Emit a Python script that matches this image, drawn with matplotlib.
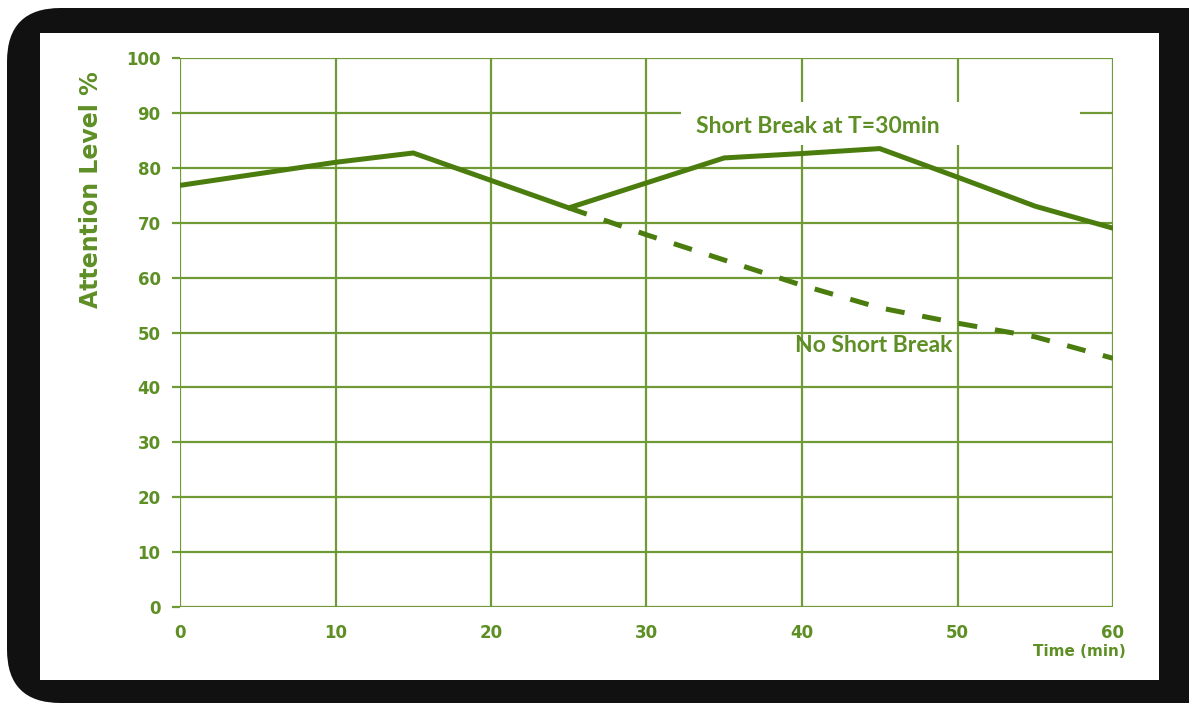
import matplotlib.pyplot as plt
from matplotlib.patches import FancyBboxPatch, Rectangle

# attention level over a 60 minute session
t_break = [0, 10, 15, 25, 35, 40, 45, 50, 55, 60]
att_break = [76.8, 81.0, 82.7, 72.7, 81.8, 82.6, 83.5, 78.3, 73.0, 69.0]

t_nobreak = [25, 30, 35, 40, 45, 50, 55, 60]
att_nobreak = [72.7, 67.8, 63.2, 58.6, 54.5, 51.7, 49.2, 45.3]

xticks = [0, 10, 20, 30, 40, 50, 60]
yticks = [0, 10, 20, 30, 40, 50, 60, 70, 80, 90, 100]

grid_c = '#6f9a35'
line_c = '#4b7c0e'
text_c = '#5e8f25'

fig = plt.figure(figsize=(11.89, 7.08), dpi=100)
fig.patch.set_facecolor('white')

# black rounded frame with a white panel inside
W, H = 1189.0, 708.0
frame = FancyBboxPatch((7 / W, 5 / H), 1.2, (700 - 5) / H,
                       boxstyle='round,pad=0,rounding_size=0.045',
                       transform=fig.transFigure, facecolor='#111111',
                       edgecolor='none', mutation_aspect=W / H, zorder=-3)
fig.patches.append(frame)
panel = Rectangle((40 / W, 1 - 680 / H), (1159 - 40) / W, (680 - 33) / H,
                  transform=fig.transFigure, facecolor='white',
                  edgecolor='none', zorder=-2)
fig.patches.append(panel)

ax = fig.add_axes([180 / W, 1 - 607 / H, (1113 - 180) / W, (607 - 58) / H])
ax.set_facecolor('none')
ax.set_xlim(0, 60)
ax.set_ylim(0, 100)
for s in ax.spines.values():
    s.set_visible(False)

ax.set_xticks(xticks)
ax.set_yticks(yticks)
ax.grid(True, color=grid_c, linewidth=1.6, zorder=1)
ax.tick_params(axis='y', length=6, width=1.6, color=grid_c, pad=8)
ax.tick_params(axis='x', length=0, pad=12)
for lab in ax.get_xticklabels() + ax.get_yticklabels():
    lab.set_fontweight('bold')
    lab.set_fontsize(12)
    lab.set_color(text_c)

ax.plot(t_break, att_break, color=line_c, linewidth=3.6, zorder=4,
        solid_joinstyle='miter')
ax.plot(t_nobreak, att_nobreak, color=line_c, linewidth=3.6, zorder=4,
        dashes=(3.8, 3.6))

# white box behind the upper label
ax.add_patch(Rectangle((32.2, 84.2), 25.7, 7.8, facecolor='white',
                       edgecolor='none', zorder=2))
ax.text(33.2, 87.6, 'Short Break at T=30min', fontsize=16.5, family='Lato',
        fontweight='bold', color=text_c, va='center', ha='left', zorder=3)
ax.text(44.6, 47.6, 'No Short Break', fontsize=16.5, family='Lato',
        fontweight='bold', color=text_c, va='center', ha='center', zorder=3)

ax.set_ylabel('Attention Level %', fontsize=17, fontweight='bold',
              color=text_c)
ax.yaxis.set_label_coords(-0.083, 0.76)
fig.text(1126 / W, 1 - 652 / H, 'Time (min)', fontsize=11, fontweight='bold',
         color=text_c, ha='right', va='center')

fig.savefig('out.png', dpi=100)
